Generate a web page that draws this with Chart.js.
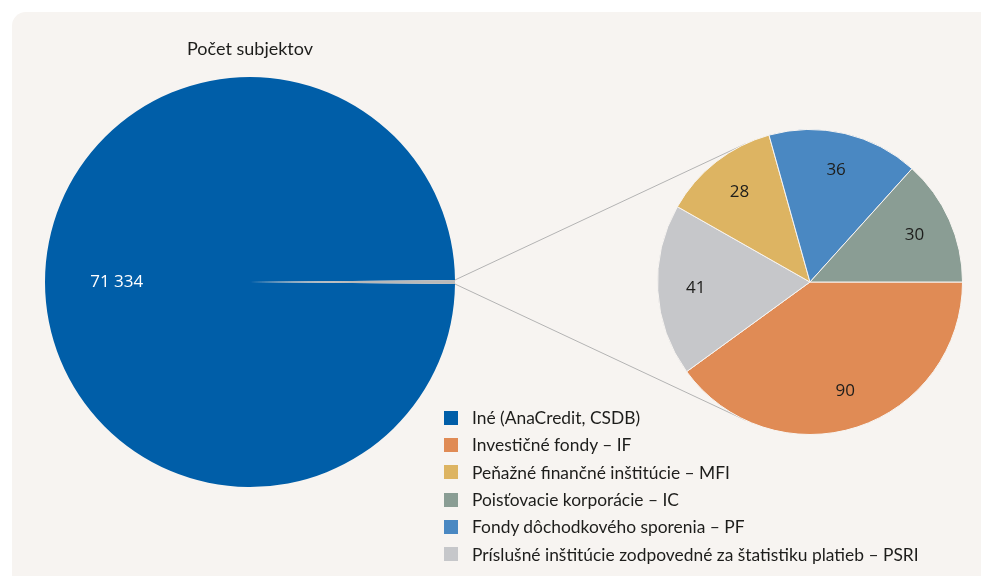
<!DOCTYPE html>
<html lang="sk">
<head>
<meta charset="utf-8">
<title>Počet subjektov</title>
<script src="https://cdn.jsdelivr.net/npm/chart.js@4.4.1/dist/chart.umd.min.js"></script>
<style>
  html, body { margin: 0; padding: 0; background: #fff; }
  #wrap { position: relative; width: 981px; height: 576px; overflow: hidden; }
  #card { position: absolute; left: 12px; top: 12px; width: 1000px; height: 620px; background: #f7f4f1; border-radius: 14px; }
  #wrap canvas { position: absolute; left: 0; top: 0; }
  #legend { position: absolute; left: 444px; top: 404px; margin: 0; padding: 0; list-style: none;
            font-family: Lato, "Noto Sans", sans-serif; font-size: 17.4px; color: #1d1d1b; }
  #legend li { height: 27.3px; display: flex; align-items: center; white-space: nowrap; }
  #legend span { display: inline-block; width: 14px; height: 14px; margin-right: 14px; }
</style>
</head>
<body>
<div id="wrap">
  <div id="card"></div>
  <canvas id="bigPie" width="981" height="576"></canvas>
  <canvas id="smallPie" width="981" height="576"></canvas>
  <ul id="legend"></ul>
</div>
<script>
// big pie: everything else vs. the five reporting sectors
const mainLabels = ['Iné (AnaCredit, CSDB)', 'Ostatné'];
const otherCount = 71334;

// small pie, clockwise from 3 o'clock
const sectorLabels = [
  'Investičné fondy – IF',
  'Príslušné inštitúcie zodpovedné za štatistiku platieb – PSRI',
  'Peňažné finančné inštitúcie – MFI',
  'Fondy dôchodkového sporenia – PF',
  'Poisťovacie korporácie – IC',
];
const sectorCounts = [90, 41, 28, 36, 30];
const sectorColors = ['#e08b55', '#c6c7ca', '#ddb462', '#4a88c2', '#8a9d94'];

// legend order as in the picture
const legendOrder = [
  ['Iné (AnaCredit, CSDB)', '#005ea8'],
  ['Investičné fondy – IF', '#e08b55'],
  ['Peňažné finančné inštitúcie – MFI', '#ddb462'],
  ['Poisťovacie korporácie – IC', '#8a9d94'],
  ['Fondy dôchodkového sporenia – PF', '#4a88c2'],
  ['Príslušné inštitúcie zodpovedné za štatistiku platieb – PSRI', '#c6c7ca'],
];

const sectorTotal = sectorCounts.reduce((a, b) => a + b, 0);
const mainValues = [otherCount, sectorTotal];
const fmt = (v) => String(v).replace(/\B(?=(\d{3})+(?!\d))/g, ' ');

const sliceLabels = {
  id: 'sliceLabels',
  afterDatasetsDraw(chart, args, opts) {
    const { ctx } = chart;
    const meta = chart.getDatasetMeta(0);
    ctx.save();
    ctx.font = opts.font;
    ctx.textAlign = 'center';
    ctx.textBaseline = 'middle';
    meta.data.forEach((arc, i) => {
      if (opts.skip && opts.skip.includes(i)) return;
      const mid = (arc.startAngle + arc.endAngle) / 2;
      const r = arc.outerRadius * opts.radius;
      ctx.fillStyle = opts.color;
      ctx.fillText(fmt(chart.data.datasets[0].data[i]), arc.x + Math.cos(mid) * r, arc.y + Math.sin(mid) * r);
    });
    ctx.restore();
  },
};

Chart.defaults.font.family = '"Open Sans", "Noto Sans", sans-serif';

const frac = sectorTotal / (otherCount + sectorTotal);
const bigChart = new Chart(document.getElementById('bigPie'), {
  type: 'pie',
  data: {
    labels: mainLabels,
    datasets: [{
      data: mainValues,
      backgroundColor: ['#005ea8', '#b9b9b9'],
      borderWidth: 0,
    }],
  },
  options: {
    responsive: false,
    animation: false,
    rotation: 90 + 180 * frac,
    layout: { padding: { left: 45, right: 526, top: 38, bottom: 89 } },
    plugins: {
      legend: { display: false },
      tooltip: { enabled: false },
      title: {
        display: true,
        text: 'Počet subjektov',
        color: '#1d1d1b',
        font: { family: 'Lato, "Noto Sans", sans-serif', size: 18, weight: 'normal' },
        padding: { top: 0, bottom: 17.4 },
      },
      sliceLabels: { font: '17px "Open Sans", "Noto Sans", sans-serif', color: '#ffffff', radius: 0.65, skip: [1] },
    },
  },
  plugins: [sliceLabels],
});

const connector = {
  id: 'connector',
  beforeDatasetsDraw(chart) {
    const sliver = bigChart.getDatasetMeta(0).data[1];
    const arc0 = chart.getDatasetMeta(0).data[0];
    const cx = arc0.x, cy = arc0.y, r = arc0.outerRadius;
    const R = sliver.outerRadius;
    const pts = [sliver.startAngle, sliver.endAngle]
      .map((a) => ({ x: sliver.x + Math.cos(a) * R, y: sliver.y + Math.sin(a) * R }))
      .sort((p, q) => p.y - q.y);
    const { ctx } = chart;
    ctx.save();
    ctx.strokeStyle = '#b3b3b3';
    ctx.lineWidth = 1;
    pts.forEach((p, k) => {
      const d = Math.hypot(p.x - cx, p.y - cy);
      const phi = Math.atan2(p.y - cy, p.x - cx);
      const alpha = Math.acos(r / d);
      const t = k === 0 ? phi + alpha : phi - alpha;
      ctx.beginPath();
      ctx.moveTo(p.x, p.y);
      ctx.lineTo(cx + Math.cos(t) * r, cy + Math.sin(t) * r);
      ctx.stroke();
    });
    ctx.restore();
  },
};

new Chart(document.getElementById('smallPie'), {
  type: 'pie',
  data: {
    labels: sectorLabels,
    datasets: [{
      data: sectorCounts,
      backgroundColor: sectorColors,
      borderColor: '#f7f4f1',
      borderWidth: 1,
    }],
  },
  options: {
    responsive: false,
    animation: false,
    rotation: 90,
    layout: { padding: { left: 657, right: 18, top: 129, bottom: 141 } },
    plugins: {
      legend: { display: false },
      tooltip: { enabled: false },
      sliceLabels: { font: '17px "Open Sans", "Noto Sans", sans-serif', color: '#1d1d1b', radius: 0.75 },
    },
  },
  plugins: [connector, sliceLabels],
});

const legendEl = document.getElementById('legend');
legendOrder.forEach(([text, color]) => {
  const li = document.createElement('li');
  const box = document.createElement('span');
  box.style.background = color;
  li.appendChild(box);
  li.appendChild(document.createTextNode(text));
  legendEl.appendChild(li);
});
</script>
</body>
</html>
